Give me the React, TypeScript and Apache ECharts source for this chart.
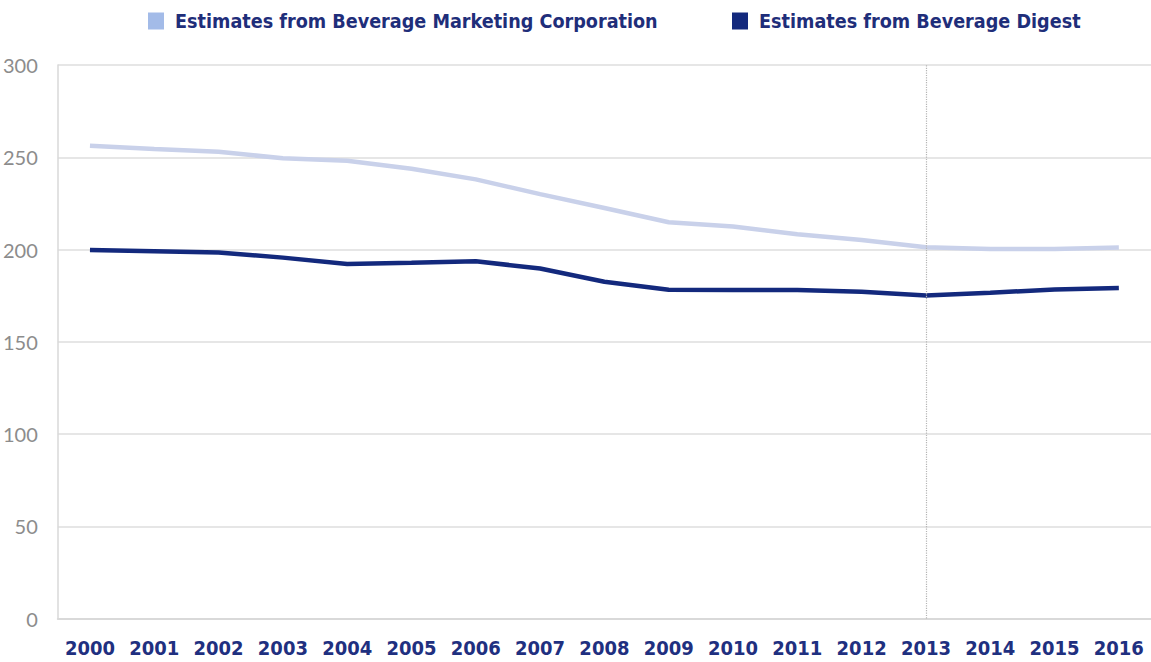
import React, { useEffect, useRef } from "react";
import * as echarts from "echarts";

const years = ["2000","2001","2002","2003","2004","2005","2006","2007","2008","2009","2010","2011","2012","2013","2014","2015","2016"];
const bmcValues = [256.2, 254.5, 253, 249.4, 248.1, 243.8, 238, 230, 222.5, 214.8, 212.5, 208.3, 205.1, 201.2, 200.3, 200.3, 201.1];
const digestValues = [199.7, 199.1, 198.4, 195.6, 192.1, 192.8, 193.6, 189.7, 182.5, 178.2, 178, 178, 177.1, 175.1, 176.6, 178.3, 179.1];
const yTicks = { min: 0, max: 300, interval: 50 };
const markedYear = "2013";
const seriesNames = ["Estimates from Beverage Marketing Corporation", "Estimates from Beverage Digest"];

const boldFont = "'DejaVu Sans Condensed', 'DejaVu Sans', sans-serif";

export default function App() {
  const ref = useRef<HTMLDivElement>(null);
  useEffect(() => {
    if (!ref.current) return;
    const chart = echarts.init(ref.current, null, { renderer: "svg" });
    const legendCommon = {
      top: 6,
      itemWidth: 16,
      itemHeight: 17,
      itemGap: 16,
      icon: "rect",
      textStyle: { color: "#1f2e7a", fontSize: 19.6, fontWeight: "bold", fontFamily: boldFont, padding: [0, 0, 0, 6] },
    };
    chart.setOption({
      animation: false,
      textStyle: { fontFamily: "Lato" },
      legend: [
        { ...legendCommon, left: 143, data: [{ name: seriesNames[0], itemStyle: { color: "#a3bbe8" } }] },
        { ...legendCommon, left: 727, data: [{ name: seriesNames[1], itemStyle: { color: "#13297d" } }] },
      ],
      grid: { left: 57, top: 65, width: 1100, height: 553.5, containLabel: false },
      xAxis: {
        type: "category",
        data: years,
        boundaryGap: true,
        axisLine: { show: true, lineStyle: { color: "#d9d9d9", width: 2 } },
        axisTick: { show: false },
        splitLine: { show: false },
        axisLabel: { color: "#1f3080", fontSize: 20, fontWeight: "bold", fontFamily: boldFont, margin: 19, interval: 0 },
      },
      yAxis: {
        type: "value",
        min: yTicks.min,
        max: yTicks.max,
        interval: yTicks.interval,
        axisLine: { show: true, lineStyle: { color: "#d9d9d9", width: 1.5 } },
        axisTick: { show: false },
        splitLine: { show: true, lineStyle: { color: "#dedede", width: 1.5 } },
        axisLabel: { color: "#8c8c8c", fontSize: 20, fontFamily: "Lato", margin: 20 },
      },
      series: [
        {
          name: seriesNames[0],
          type: "line",
          data: bmcValues,
          symbol: "none",
          itemStyle: { color: "#a3bbe8" },
          lineStyle: { color: "#c9d1ea", width: 4.5 },
          z: 2,
        },
        {
          name: seriesNames[1],
          type: "line",
          data: digestValues,
          symbol: "none",
          itemStyle: { color: "#13297d" },
          lineStyle: { color: "#13297d", width: 4.5 },
          z: 3,
          markLine: {
            silent: true,
            symbol: "none",
            label: { show: false },
            lineStyle: { color: "#b5b5b5", type: "dotted", width: 1.2 },
            data: [{ xAxis: markedYear }],
          },
        },
      ],
    });
    return () => chart.dispose();
  }, []);
  return <div ref={ref} style={{ position: "absolute", left: 0, top: 0, width: 1151, height: 662 }} />;
}
